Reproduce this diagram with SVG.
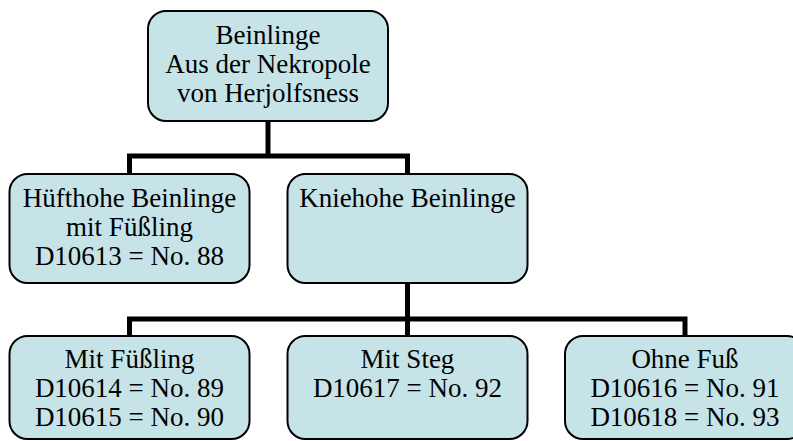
<svg xmlns="http://www.w3.org/2000/svg" width="793" height="441" viewBox="0 0 793 441">
<style>
.box{fill:#C6E4E8;stroke:#000;stroke-width:2}
.t{font-family:"Liberation Serif","Times New Roman",serif;font-size:27px;fill:#000;text-anchor:middle}
.c{fill:none;stroke:#000;stroke-width:5;stroke-linecap:square;stroke-linejoin:miter}
</style>
<rect width="793" height="441" fill="#fff"/>
<g id="connectors">
<path class="c" d="M268 121V156M129.5 174V156H407.5V174"/>
<path class="c" d="M407.5 283V319M129.5 336V319H685V336M407.5 319V336"/>
</g>
<g id="root">
<rect class="box" x="148" y="11" width="240" height="110" rx="18"/>
<text class="t" x="268" y="44">Beinlinge</text>
<text class="t" x="268" y="73">Aus der Nekropole</text>
<text class="t" x="268" y="102">von Herjolfsness</text>
</g>
<g id="huefthohe">
<rect class="box" x="9.5" y="174" width="240" height="109" rx="18"/>
<text class="t" x="129.5" y="207">Hüfthohe Beinlinge</text>
<text class="t" x="129.5" y="236">mit Füßling</text>
<text class="t" x="129.5" y="265">D10613 = No. 88</text>
</g>
<g id="kniehohe">
<rect class="box" x="287.5" y="174" width="240" height="109" rx="18"/>
<text class="t" x="407.5" y="207">Kniehohe Beinlinge</text>
</g>
<g id="mit-fuessling">
<rect class="box" x="9.5" y="336" width="240" height="103" rx="18"/>
<text class="t" x="129.5" y="368">Mit Füßling</text>
<text class="t" x="129.5" y="397">D10614 = No. 89</text>
<text class="t" x="129.5" y="426">D10615 = No. 90</text>
</g>
<g id="mit-steg">
<rect class="box" x="287.5" y="336" width="240" height="103" rx="18"/>
<text class="t" x="407.5" y="368">Mit Steg</text>
<text class="t" x="407.5" y="397">D10617 = No. 92</text>
</g>
<g id="ohne-fuss">
<rect class="box" x="565" y="336" width="240" height="103" rx="18"/>
<text class="t" x="685" y="368">Ohne Fuß</text>
<text class="t" x="685" y="397">D10616 = No. 91</text>
<text class="t" x="685" y="426">D10618 = No. 93</text>
</g>
</svg>
